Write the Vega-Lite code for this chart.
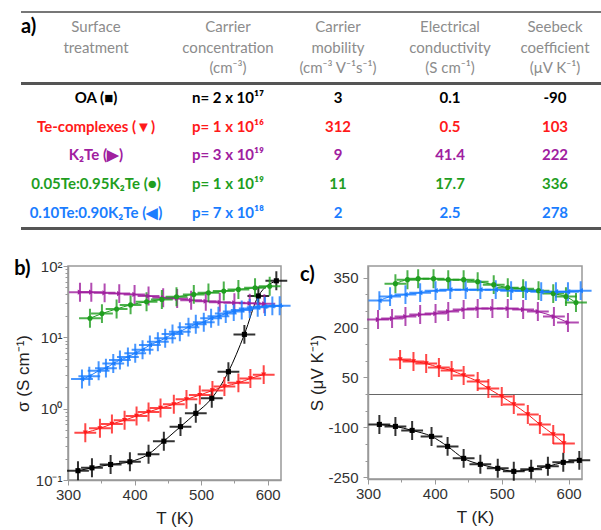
{
  "$schema": "https://vega.github.io/schema/vega-lite/v6.json",
  "background": "white",
  "padding": {"left": 9, "top": 10, "right": 0, "bottom": 0},
  "config": {
    "view": {"stroke": "#999", "strokeWidth": 1.5},
    "axis": {"grid": false, "labelFont": "Liberation Sans", "labelFontSize": 15, "labelColor": "#333", "titleFont": "Liberation Sans", "titleFontSize": 17, "titleFontWeight": "normal", "titleColor": "#222", "domainColor": "#999", "domainWidth": 1.5, "tickColor": "#999", "labelFlush": false, "labelOverlap": false},
    "title": {"font": "Lato", "fontSize": 20, "fontWeight": "bold", "color": "#000", "anchor": "start", "baseline": "bottom"}
  },
  "datasets": {
    "table": [
      {"col": 0, "row": -1, "kind": "head", "grp": "header", "text": "Surface\ntreatment"},
      {"col": 1, "row": -1, "kind": "head", "grp": "header", "text": "Carrier\nconcentration\n(cm⁻³)"},
      {"col": 2, "row": -1, "kind": "head", "grp": "header", "text": "Carrier\nmobility\n(cm⁻³ V⁻¹s⁻¹)"},
      {"col": 3, "row": -1, "kind": "head", "grp": "header", "text": "Electrical\nconductivity\n(S cm⁻¹)"},
      {"col": 4, "row": -1, "kind": "head", "grp": "header", "text": "Seebeck\ncoefficient\n(μV K⁻¹)"},
      {"col": 0, "row": 0, "kind": "body", "grp": "OA", "text": "OA (■)"},
      {"col": 1, "row": 0, "kind": "body", "grp": "OA", "text": "n= 2 x 10¹⁷"},
      {"col": 2, "row": 0, "kind": "body", "grp": "OA", "text": "3"},
      {"col": 3, "row": 0, "kind": "body", "grp": "OA", "text": "0.1"},
      {"col": 4, "row": 0, "kind": "body", "grp": "OA", "text": "-90"},
      {"col": 0, "row": 1, "kind": "body", "grp": "Te-complexes", "text": "Te-complexes (▼)"},
      {"col": 1, "row": 1, "kind": "body", "grp": "Te-complexes", "text": "p= 1 x 10¹⁶"},
      {"col": 2, "row": 1, "kind": "body", "grp": "Te-complexes", "text": "312"},
      {"col": 3, "row": 1, "kind": "body", "grp": "Te-complexes", "text": "0.5"},
      {"col": 4, "row": 1, "kind": "body", "grp": "Te-complexes", "text": "103"},
      {"col": 0, "row": 2, "kind": "body", "grp": "K2Te", "text": "K₂Te (▶)"},
      {"col": 1, "row": 2, "kind": "body", "grp": "K2Te", "text": "p= 3 x 10¹⁹"},
      {"col": 2, "row": 2, "kind": "body", "grp": "K2Te", "text": "9"},
      {"col": 3, "row": 2, "kind": "body", "grp": "K2Te", "text": "41.4"},
      {"col": 4, "row": 2, "kind": "body", "grp": "K2Te", "text": "222"},
      {"col": 0, "row": 3, "kind": "body", "grp": "0.05Te:0.95K2Te", "text": "0.05Te:0.95K₂Te (●)"},
      {"col": 1, "row": 3, "kind": "body", "grp": "0.05Te:0.95K2Te", "text": "p= 1 x 10¹⁹"},
      {"col": 2, "row": 3, "kind": "body", "grp": "0.05Te:0.95K2Te", "text": "11"},
      {"col": 3, "row": 3, "kind": "body", "grp": "0.05Te:0.95K2Te", "text": "17.7"},
      {"col": 4, "row": 3, "kind": "body", "grp": "0.05Te:0.95K2Te", "text": "336"},
      {"col": 0, "row": 4, "kind": "body", "grp": "0.10Te:0.90K2Te", "text": "0.10Te:0.90K₂Te (◀)"},
      {"col": 1, "row": 4, "kind": "body", "grp": "0.10Te:0.90K2Te", "text": "p= 7 x 10¹⁸"},
      {"col": 2, "row": 4, "kind": "body", "grp": "0.10Te:0.90K2Te", "text": "2"},
      {"col": 3, "row": 4, "kind": "body", "grp": "0.10Te:0.90K2Te", "text": "2.5"},
      {"col": 4, "row": 4, "kind": "body", "grp": "0.10Te:0.90K2Te", "text": "278"}
    ],
    "sigma": [
      {"sample": "OA", "T": 315, "v": 0.135}, {"sample": "OA", "T": 336, "v": 0.148}, {"sample": "OA", "T": 364, "v": 0.165}, {"sample": "OA", "T": 393, "v": 0.18}, {"sample": "OA", "T": 421, "v": 0.23}, {"sample": "OA", "T": 444, "v": 0.35}, {"sample": "OA", "T": 469, "v": 0.56}, {"sample": "OA", "T": 492, "v": 0.86}, {"sample": "OA", "T": 516, "v": 1.4}, {"sample": "OA", "T": 541, "v": 3.3}, {"sample": "OA", "T": 565, "v": 11}, {"sample": "OA", "T": 586, "v": 38}, {"sample": "OA", "T": 613, "v": 62},
      {"sample": "Te-complexes", "T": 326, "v": 0.46}, {"sample": "Te-complexes", "T": 348, "v": 0.53}, {"sample": "Te-complexes", "T": 366, "v": 0.61}, {"sample": "Te-complexes", "T": 385, "v": 0.69}, {"sample": "Te-complexes", "T": 403, "v": 0.79}, {"sample": "Te-complexes", "T": 421, "v": 0.9}, {"sample": "Te-complexes", "T": 439, "v": 1.02}, {"sample": "Te-complexes", "T": 459, "v": 1.15}, {"sample": "Te-complexes", "T": 478, "v": 1.35}, {"sample": "Te-complexes", "T": 498, "v": 1.55}, {"sample": "Te-complexes", "T": 517, "v": 1.8}, {"sample": "Te-complexes", "T": 535, "v": 2.05}, {"sample": "Te-complexes", "T": 556, "v": 2.3}, {"sample": "Te-complexes", "T": 574, "v": 2.65}, {"sample": "Te-complexes", "T": 594, "v": 3.0},
      {"sample": "K2Te", "T": 318, "v": 43}, {"sample": "K2Te", "T": 335, "v": 43}, {"sample": "K2Te", "T": 355, "v": 42}, {"sample": "K2Te", "T": 377, "v": 41}, {"sample": "K2Te", "T": 400, "v": 40}, {"sample": "K2Te", "T": 421, "v": 38}, {"sample": "K2Te", "T": 443, "v": 36}, {"sample": "K2Te", "T": 464, "v": 35}, {"sample": "K2Te", "T": 485, "v": 33}, {"sample": "K2Te", "T": 507, "v": 32}, {"sample": "K2Te", "T": 528, "v": 31}, {"sample": "K2Te", "T": 550, "v": 30.5}, {"sample": "K2Te", "T": 573, "v": 30}, {"sample": "K2Te", "T": 595, "v": 29.5},
      {"sample": "0.05Te:0.95K2Te", "T": 333, "v": 18.5}, {"sample": "0.05Te:0.95K2Te", "T": 351, "v": 21.5}, {"sample": "0.05Te:0.95K2Te", "T": 373, "v": 25}, {"sample": "0.05Te:0.95K2Te", "T": 394, "v": 28.5}, {"sample": "0.05Te:0.95K2Te", "T": 418, "v": 31.5}, {"sample": "0.05Te:0.95K2Te", "T": 441, "v": 34}, {"sample": "0.05Te:0.95K2Te", "T": 463, "v": 37}, {"sample": "0.05Te:0.95K2Te", "T": 489, "v": 40}, {"sample": "0.05Te:0.95K2Te", "T": 511, "v": 42}, {"sample": "0.05Te:0.95K2Te", "T": 534, "v": 44.5}, {"sample": "0.05Te:0.95K2Te", "T": 556, "v": 47}, {"sample": "0.05Te:0.95K2Te", "T": 581, "v": 49.5}, {"sample": "0.05Te:0.95K2Te", "T": 603, "v": 52},
      {"sample": "0.10Te:0.90K2Te", "T": 321, "v": 2.6}, {"sample": "0.10Te:0.90K2Te", "T": 332, "v": 2.85}, {"sample": "0.10Te:0.90K2Te", "T": 346, "v": 3.4}, {"sample": "0.10Te:0.90K2Te", "T": 357, "v": 3.7}, {"sample": "0.10Te:0.90K2Te", "T": 368, "v": 4.3}, {"sample": "0.10Te:0.90K2Te", "T": 378, "v": 4.8}, {"sample": "0.10Te:0.90K2Te", "T": 390, "v": 5.3}, {"sample": "0.10Te:0.90K2Te", "T": 401, "v": 6.0}, {"sample": "0.10Te:0.90K2Te", "T": 412, "v": 6.7}, {"sample": "0.10Te:0.90K2Te", "T": 423, "v": 7.8}, {"sample": "0.10Te:0.90K2Te", "T": 435, "v": 8.7}, {"sample": "0.10Te:0.90K2Te", "T": 446, "v": 9.7}, {"sample": "0.10Te:0.90K2Te", "T": 457, "v": 11.1}, {"sample": "0.10Te:0.90K2Te", "T": 468, "v": 12.0}, {"sample": "0.10Te:0.90K2Te", "T": 481, "v": 13.9}, {"sample": "0.10Te:0.90K2Te", "T": 492, "v": 15.2}, {"sample": "0.10Te:0.90K2Te", "T": 504, "v": 16.3}, {"sample": "0.10Te:0.90K2Te", "T": 515, "v": 18.5}, {"sample": "0.10Te:0.90K2Te", "T": 526, "v": 19.8}, {"sample": "0.10Te:0.90K2Te", "T": 537, "v": 21.5}, {"sample": "0.10Te:0.90K2Te", "T": 549, "v": 23}, {"sample": "0.10Te:0.90K2Te", "T": 561, "v": 24.2}, {"sample": "0.10Te:0.90K2Te", "T": 573, "v": 25.3}, {"sample": "0.10Te:0.90K2Te", "T": 585, "v": 26.4}, {"sample": "0.10Te:0.90K2Te", "T": 596, "v": 27}, {"sample": "0.10Te:0.90K2Te", "T": 607, "v": 27.6}, {"sample": "0.10Te:0.90K2Te", "T": 618, "v": 27.8}
    ],
    "seebeck": [
      {"sample": "OA", "T": 317, "S": -91}, {"sample": "OA", "T": 341, "S": -97}, {"sample": "OA", "T": 366, "S": -109}, {"sample": "OA", "T": 395, "S": -127}, {"sample": "OA", "T": 419, "S": -157}, {"sample": "OA", "T": 443, "S": -193}, {"sample": "OA", "T": 468, "S": -211}, {"sample": "OA", "T": 494, "S": -223}, {"sample": "OA", "T": 518, "S": -232}, {"sample": "OA", "T": 544, "S": -226}, {"sample": "OA", "T": 569, "S": -217}, {"sample": "OA", "T": 592, "S": -205}, {"sample": "OA", "T": 616, "S": -199},
      {"sample": "Te-complexes", "T": 348, "S": 104}, {"sample": "Te-complexes", "T": 368, "S": 98}, {"sample": "Te-complexes", "T": 387, "S": 92}, {"sample": "Te-complexes", "T": 406, "S": 80}, {"sample": "Te-complexes", "T": 425, "S": 71}, {"sample": "Te-complexes", "T": 443, "S": 56}, {"sample": "Te-complexes", "T": 464, "S": 38}, {"sample": "Te-complexes", "T": 480, "S": 17}, {"sample": "Te-complexes", "T": 500, "S": -7}, {"sample": "Te-complexes", "T": 518, "S": -31}, {"sample": "Te-complexes", "T": 539, "S": -61}, {"sample": "Te-complexes", "T": 557, "S": -91}, {"sample": "Te-complexes", "T": 577, "S": -121}, {"sample": "Te-complexes", "T": 593, "S": -148},
      {"sample": "K2Te", "T": 315, "S": 224}, {"sample": "K2Te", "T": 336, "S": 227}, {"sample": "K2Te", "T": 356, "S": 233}, {"sample": "K2Te", "T": 378, "S": 239}, {"sample": "K2Te", "T": 401, "S": 242}, {"sample": "K2Te", "T": 420, "S": 248}, {"sample": "K2Te", "T": 443, "S": 254}, {"sample": "K2Te", "T": 464, "S": 257}, {"sample": "K2Te", "T": 486, "S": 257}, {"sample": "K2Te", "T": 509, "S": 257}, {"sample": "K2Te", "T": 532, "S": 254}, {"sample": "K2Te", "T": 554, "S": 248}, {"sample": "K2Te", "T": 578, "S": 233}, {"sample": "K2Te", "T": 599, "S": 215},
      {"sample": "0.05Te:0.95K2Te", "T": 341, "S": 332}, {"sample": "0.05Te:0.95K2Te", "T": 359, "S": 344}, {"sample": "0.05Te:0.95K2Te", "T": 375, "S": 347}, {"sample": "0.05Te:0.95K2Te", "T": 398, "S": 347}, {"sample": "0.05Te:0.95K2Te", "T": 420, "S": 344}, {"sample": "0.05Te:0.95K2Te", "T": 443, "S": 344}, {"sample": "0.05Te:0.95K2Te", "T": 464, "S": 338}, {"sample": "0.05Te:0.95K2Te", "T": 488, "S": 329}, {"sample": "0.05Te:0.95K2Te", "T": 509, "S": 320}, {"sample": "0.05Te:0.95K2Te", "T": 532, "S": 317}, {"sample": "0.05Te:0.95K2Te", "T": 555, "S": 311}, {"sample": "0.05Te:0.95K2Te", "T": 577, "S": 302}, {"sample": "0.05Te:0.95K2Te", "T": 596, "S": 293}, {"sample": "0.05Te:0.95K2Te", "T": 611, "S": 275},
      {"sample": "0.10Te:0.90K2Te", "T": 317, "S": 281}, {"sample": "0.10Te:0.90K2Te", "T": 333, "S": 293}, {"sample": "0.10Te:0.90K2Te", "T": 356, "S": 299}, {"sample": "0.10Te:0.90K2Te", "T": 378, "S": 305}, {"sample": "0.10Te:0.90K2Te", "T": 401, "S": 311}, {"sample": "0.10Te:0.90K2Te", "T": 423, "S": 314}, {"sample": "0.10Te:0.90K2Te", "T": 446, "S": 314}, {"sample": "0.10Te:0.90K2Te", "T": 468, "S": 314}, {"sample": "0.10Te:0.90K2Te", "T": 491, "S": 314}, {"sample": "0.10Te:0.90K2Te", "T": 514, "S": 311}, {"sample": "0.10Te:0.90K2Te", "T": 536, "S": 311}, {"sample": "0.10Te:0.90K2Te", "T": 559, "S": 308}, {"sample": "0.10Te:0.90K2Te", "T": 581, "S": 308}, {"sample": "0.10Te:0.90K2Te", "T": 599, "S": 308}, {"sample": "0.10Te:0.90K2Te", "T": 618, "S": 311}
    ]
  },
  "spacing": 28,
  "vconcat": [
    {
      "spacing": 0,
      "bounds": "flush",
      "hconcat": [
        {"width": 12, "height": 220, "view": {"stroke": null}, "data": {"values": [{}]}, "mark": {"type": "text", "text": ""}},
        {
          "width": 150, "height": 220, "view": {"stroke": null},
          "title": {"text": "a)", "frame": "group", "offset": -27},
          "data": {"name": "table"},
          "transform": [{"filter": "datum.col == 0"}],
          "layer": [
            {"mark": {"type": "rule", "color": "#777", "strokeWidth": 1.6}, "encoding": {"y": {"datum": -3.0, "type": "quantitative", "scale": {"domain": [-3.07, 4.6], "reverse": true, "nice": false, "zero": false}, "axis": null}}},
            {"mark": {"type": "rule", "color": "#555", "strokeWidth": 2.6}, "encoding": {"y": {"datum": -0.51, "type": "quantitative", "axis": null}}},
            {"mark": {"type": "rule", "color": "#555", "strokeWidth": 2.6}, "encoding": {"y": {"datum": 4.54, "type": "quantitative", "axis": null}}},
            {"transform": [{"filter": "datum.kind == 'head'"}], "mark": {"type": "text", "baseline": "top", "dy": -49, "lineBreak": "\n", "lineHeight": 20.5, "font": "Lato", "fontSize": 15, "color": "#8c8c8c"}, "encoding": {"y": {"field": "row", "type": "quantitative", "axis": null}, "text": {"field": "text"}}},
            {"transform": [{"filter": "datum.kind == 'body'"}], "mark": {"type": "text", "baseline": "middle", "font": "Lato", "fontSize": 15, "fontWeight": "bold"}, "encoding": {"y": {"field": "row", "type": "quantitative", "axis": null}, "text": {"field": "text"}, "color": {"field": "grp", "type": "nominal", "scale": {"domain": ["OA", "Te-complexes", "K2Te", "0.05Te:0.95K2Te", "0.10Te:0.90K2Te"], "range": ["#000000", "#ff1a1a", "#a0209f", "#1f9e1f", "#1a7dff"]}, "legend": null}}}
          ]
        },
        {
          "width": 114, "height": 220, "view": {"stroke": null},
          "data": {"name": "table"},
          "transform": [{"filter": "datum.col == 1"}],
          "layer": [
            {"mark": {"type": "rule", "color": "#777", "strokeWidth": 1.6}, "encoding": {"y": {"datum": -3.0, "type": "quantitative", "scale": {"domain": [-3.07, 4.6], "reverse": true, "nice": false, "zero": false}, "axis": null}}},
            {"mark": {"type": "rule", "color": "#555", "strokeWidth": 2.6}, "encoding": {"y": {"datum": -0.51, "type": "quantitative", "axis": null}}},
            {"mark": {"type": "rule", "color": "#555", "strokeWidth": 2.6}, "encoding": {"y": {"datum": 4.54, "type": "quantitative", "axis": null}}},
            {"transform": [{"filter": "datum.kind == 'head'"}], "mark": {"type": "text", "baseline": "top", "dy": -49, "lineBreak": "\n", "lineHeight": 20.5, "font": "Lato", "fontSize": 15, "color": "#8c8c8c"}, "encoding": {"y": {"field": "row", "type": "quantitative", "axis": null}, "text": {"field": "text"}}},
            {"transform": [{"filter": "datum.kind == 'body'"}], "mark": {"type": "text", "baseline": "middle", "font": "Lato", "fontSize": 15, "fontWeight": "bold"}, "encoding": {"y": {"field": "row", "type": "quantitative", "axis": null}, "text": {"field": "text"}, "color": {"field": "grp", "type": "nominal", "scale": {"domain": ["OA", "Te-complexes", "K2Te", "0.05Te:0.95K2Te", "0.10Te:0.90K2Te"], "range": ["#000000", "#ff1a1a", "#a0209f", "#1f9e1f", "#1a7dff"]}, "legend": null}}}
          ]
        },
        {
          "width": 106, "height": 220, "view": {"stroke": null},
          "data": {"name": "table"},
          "transform": [{"filter": "datum.col == 2"}],
          "layer": [
            {"mark": {"type": "rule", "color": "#777", "strokeWidth": 1.6}, "encoding": {"y": {"datum": -3.0, "type": "quantitative", "scale": {"domain": [-3.07, 4.6], "reverse": true, "nice": false, "zero": false}, "axis": null}}},
            {"mark": {"type": "rule", "color": "#555", "strokeWidth": 2.6}, "encoding": {"y": {"datum": -0.51, "type": "quantitative", "axis": null}}},
            {"mark": {"type": "rule", "color": "#555", "strokeWidth": 2.6}, "encoding": {"y": {"datum": 4.54, "type": "quantitative", "axis": null}}},
            {"transform": [{"filter": "datum.kind == 'head'"}], "mark": {"type": "text", "baseline": "top", "dy": -49, "lineBreak": "\n", "lineHeight": 20.5, "font": "Lato", "fontSize": 15, "color": "#8c8c8c"}, "encoding": {"y": {"field": "row", "type": "quantitative", "axis": null}, "text": {"field": "text"}}},
            {"transform": [{"filter": "datum.kind == 'body'"}], "mark": {"type": "text", "baseline": "middle", "font": "Lato", "fontSize": 15, "fontWeight": "bold"}, "encoding": {"y": {"field": "row", "type": "quantitative", "axis": null}, "text": {"field": "text"}, "color": {"field": "grp", "type": "nominal", "scale": {"domain": ["OA", "Te-complexes", "K2Te", "0.05Te:0.95K2Te", "0.10Te:0.90K2Te"], "range": ["#000000", "#ff1a1a", "#a0209f", "#1f9e1f", "#1a7dff"]}, "legend": null}}}
          ]
        },
        {
          "width": 118, "height": 220, "view": {"stroke": null},
          "data": {"name": "table"},
          "transform": [{"filter": "datum.col == 3"}],
          "layer": [
            {"mark": {"type": "rule", "color": "#777", "strokeWidth": 1.6}, "encoding": {"y": {"datum": -3.0, "type": "quantitative", "scale": {"domain": [-3.07, 4.6], "reverse": true, "nice": false, "zero": false}, "axis": null}}},
            {"mark": {"type": "rule", "color": "#555", "strokeWidth": 2.6}, "encoding": {"y": {"datum": -0.51, "type": "quantitative", "axis": null}}},
            {"mark": {"type": "rule", "color": "#555", "strokeWidth": 2.6}, "encoding": {"y": {"datum": 4.54, "type": "quantitative", "axis": null}}},
            {"transform": [{"filter": "datum.kind == 'head'"}], "mark": {"type": "text", "baseline": "top", "dy": -49, "lineBreak": "\n", "lineHeight": 20.5, "font": "Lato", "fontSize": 15, "color": "#8c8c8c"}, "encoding": {"y": {"field": "row", "type": "quantitative", "axis": null}, "text": {"field": "text"}}},
            {"transform": [{"filter": "datum.kind == 'body'"}], "mark": {"type": "text", "baseline": "middle", "font": "Lato", "fontSize": 15, "fontWeight": "bold"}, "encoding": {"y": {"field": "row", "type": "quantitative", "axis": null}, "text": {"field": "text"}, "color": {"field": "grp", "type": "nominal", "scale": {"domain": ["OA", "Te-complexes", "K2Te", "0.05Te:0.95K2Te", "0.10Te:0.90K2Te"], "range": ["#000000", "#ff1a1a", "#a0209f", "#1f9e1f", "#1a7dff"]}, "legend": null}}}
          ]
        },
        {
          "width": 92, "height": 220, "view": {"stroke": null},
          "data": {"name": "table"},
          "transform": [{"filter": "datum.col == 4"}],
          "layer": [
            {"mark": {"type": "rule", "color": "#777", "strokeWidth": 1.6}, "encoding": {"y": {"datum": -3.0, "type": "quantitative", "scale": {"domain": [-3.07, 4.6], "reverse": true, "nice": false, "zero": false}, "axis": null}}},
            {"mark": {"type": "rule", "color": "#555", "strokeWidth": 2.6}, "encoding": {"y": {"datum": -0.51, "type": "quantitative", "axis": null}}},
            {"mark": {"type": "rule", "color": "#555", "strokeWidth": 2.6}, "encoding": {"y": {"datum": 4.54, "type": "quantitative", "axis": null}}},
            {"transform": [{"filter": "datum.kind == 'head'"}], "mark": {"type": "text", "baseline": "top", "dy": -49, "lineBreak": "\n", "lineHeight": 20.5, "font": "Lato", "fontSize": 15, "color": "#8c8c8c"}, "encoding": {"y": {"field": "row", "type": "quantitative", "axis": null}, "text": {"field": "text"}}},
            {"transform": [{"filter": "datum.kind == 'body'"}], "mark": {"type": "text", "baseline": "middle", "font": "Lato", "fontSize": 15, "fontWeight": "bold"}, "encoding": {"y": {"field": "row", "type": "quantitative", "axis": null}, "text": {"field": "text"}, "color": {"field": "grp", "type": "nominal", "scale": {"domain": ["OA", "Te-complexes", "K2Te", "0.05Te:0.95K2Te", "0.10Te:0.90K2Te"], "range": ["#000000", "#ff1a1a", "#a0209f", "#1f9e1f", "#1a7dff"]}, "legend": null}}}
          ]
        }
      ]
    },
    {
      "spacing": 3,
      "hconcat": [
        {"width": 1, "height": 10, "view": {"stroke": null}, "data": {"values": [{}]}, "mark": {"type": "text", "text": ""}},
        {
          "width": 213, "height": 214,
          "title": {"text": "b)", "frame": "bounds", "offset": -20, "dx": 0},
          "data": {"name": "sigma"},
          "encoding": {
            "x": {"field": "T", "type": "quantitative", "scale": {"domain": [300, 620], "nice": false, "zero": false}, "axis": {"title": "T (K)", "values": [300, 350, 400, 450, 500, 550, 600], "labelExpr": "datum.value % 100 == 0 ? datum.label : ''", "tickSize": {"condition": {"test": "datum.value % 100 == 0", "value": 5}, "value": 3}, "labelPadding": 2, "titlePadding": 8, "labelOverlap": false}},
            "y": {"field": "v", "type": "quantitative", "scale": {"type": "log", "domain": [0.1, 100], "nice": false}, "axis": {"title": "σ (S cm⁻¹)", "values": [0.1, 0.2, 0.3, 0.4, 0.5, 0.6, 0.7, 0.8, 0.9, 1, 2, 3, 4, 5, 6, 7, 8, 9, 10, 20, 30, 40, 50, 60, 70, 80, 90, 100], "labelExpr": "datum.value == 0.1 ? '10⁻¹' : datum.value == 1 ? '10⁰' : datum.value == 10 ? '10¹' : datum.value == 100 ? '10²' : ''", "tickSize": {"condition": {"test": "datum.value == 0.1 || datum.value == 1 || datum.value == 10 || datum.value == 100", "value": 5}, "value": 3}, "labelPadding": 1, "titlePadding": 3, "labelOverlap": false}},
            "color": {"field": "sample", "type": "nominal", "scale": {"domain": ["OA", "Te-complexes", "K2Te", "0.05Te:0.95K2Te", "0.10Te:0.90K2Te"], "range": ["#000000", "#ff1a1a", "#a0209f", "#1f9e1f", "#1a7dff"]}, "legend": null}
          },
          "layer": [
            {"mark": {"type": "line", "strokeWidth": 1, "interpolate": "monotone"}},
            {"mark": {"type": "point", "shape": "M-1.15,0L1.15,0M0,-1L0,1", "filled": false, "strokeWidth": 2, "size": 360, "opacity": 0.8}},
            {"mark": {"type": "point", "filled": true, "size": 26, "opacity": 1}, "encoding": {"shape": {"field": "sample", "type": "nominal", "scale": {"domain": ["OA", "Te-complexes", "K2Te", "0.05Te:0.95K2Te", "0.10Te:0.90K2Te"], "range": ["square", "triangle-down", "triangle-right", "circle", "triangle-left"]}, "legend": null}}}
          ]
        },
        {
          "width": 214, "height": 213,
          "title": {"text": "c)", "frame": "bounds", "offset": -20, "dx": -9},
          "data": {"name": "seebeck"},
          "encoding": {
            "x": {"field": "T", "type": "quantitative", "scale": {"domain": [300, 620], "nice": false, "zero": false}, "axis": {"title": "T (K)", "values": [300, 350, 400, 450, 500, 550, 600], "labelExpr": "datum.value % 100 == 0 ? datum.label : ''", "tickSize": {"condition": {"test": "datum.value % 100 == 0", "value": 5}, "value": 3}, "labelPadding": 2, "titlePadding": 8, "labelOverlap": false}},
            "y": {"field": "S", "type": "quantitative", "scale": {"domain": [-255, 385], "nice": false, "zero": false}, "axis": {"title": "S (μV K⁻¹)", "values": [-250, -200, -150, -100, -50, 0, 50, 100, 150, 200, 250, 300, 350], "labelExpr": "(datum.value + 250) % 150 == 0 ? '' + datum.value : ''", "tickSize": {"condition": {"test": "(datum.value + 250) % 150 == 0", "value": 5}, "value": 3}, "labelPadding": 5, "titlePadding": 1, "labelOverlap": false, "grid": true, "gridColor": "#666", "gridWidth": 1, "gridOpacity": {"condition": {"test": "datum.value == 0", "value": 1}, "value": 0}}},
            "color": {"field": "sample", "type": "nominal", "scale": {"domain": ["OA", "Te-complexes", "K2Te", "0.05Te:0.95K2Te", "0.10Te:0.90K2Te"], "range": ["#000000", "#ff1a1a", "#a0209f", "#1f9e1f", "#1a7dff"]}, "legend": null}
          },
          "layer": [
            {"mark": {"type": "line", "strokeWidth": 1, "interpolate": "monotone"}},
            {"mark": {"type": "point", "shape": "M-1.15,0L1.15,0M0,-1L0,1", "filled": false, "strokeWidth": 2, "size": 360, "opacity": 0.8}},
            {"mark": {"type": "point", "filled": true, "size": 26, "opacity": 1}, "encoding": {"shape": {"field": "sample", "type": "nominal", "scale": {"domain": ["OA", "Te-complexes", "K2Te", "0.05Te:0.95K2Te", "0.10Te:0.90K2Te"], "range": ["square", "triangle-down", "triangle-right", "circle", "triangle-left"]}, "legend": null}}}
          ]
        }
      ]
    }
  ]
}
